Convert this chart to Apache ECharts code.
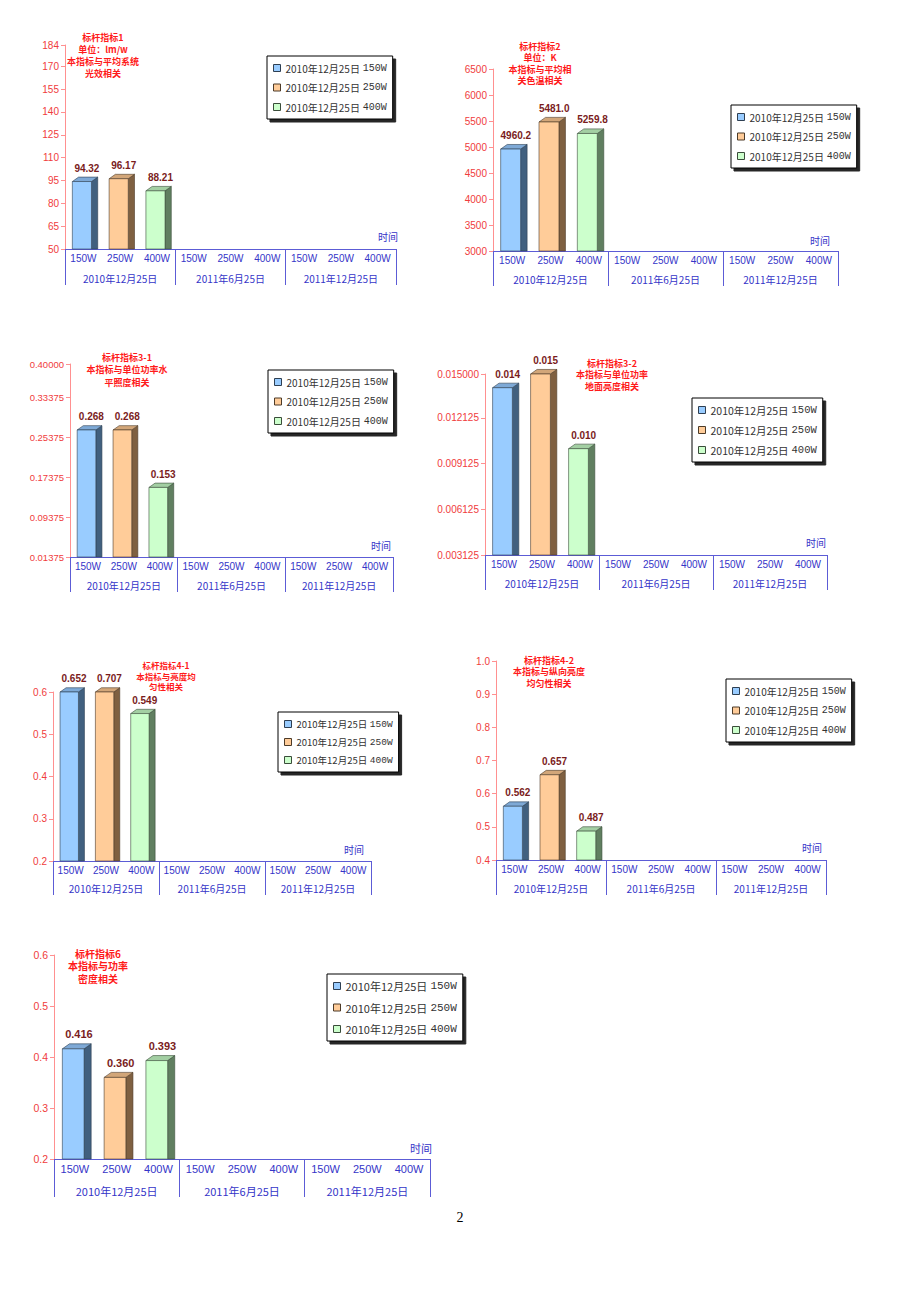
<!DOCTYPE html>
<html><head><meta charset="utf-8">
<script src="https://cdn.jsdelivr.net/npm/echarts@6/dist/echarts.min.js"></script>
<style>html,body{margin:0;padding:0;background:#fff}#c{width:920px;height:1302px}</style>
</head><body><div id="c"></div>
<script>
// ---------- data ----------
const powers = ['150W', '250W', '400W'];
const periods = ['2010年12月25日', '2011年6月25日', '2011年12月25日'];
const categories = ['150W', '250W', '400W', '150W', '250W', '400W', '150W', '250W', '400W'];
const seriesNames = ['2010年12月25日 150W', '2010年12月25日 250W', '2010年12月25日 400W'];

const values1 = [94.32, 96.17, 88.21];
const values2 = [4960.2, 5481.0, 5259.8];
const values31 = [0.268, 0.268, 0.153];
const values32 = [0.0141, 0.0150, 0.0101];
const values41 = [0.652, 0.707, 0.549];
const values42 = [0.562, 0.657, 0.487];
const values6 = [0.416, 0.360, 0.393];

const ticks1 = [50, 65, 80, 95, 110, 125, 140, 155, 170, 184];
const ticks2 = [3000, 3500, 4000, 4500, 5000, 5500, 6000, 6500];
const ticks31 = [0.01375, 0.09375, 0.17375, 0.25375, 0.33375, 0.40000];
const ticks32 = [0.003125, 0.006125, 0.009125, 0.012125, 0.015000];
const ticks41 = [0.2, 0.3, 0.4, 0.5, 0.6];
const ticks42 = [0.4, 0.5, 0.6, 0.7, 0.8, 0.9, 1.0];
const ticks6 = [0.2, 0.3, 0.4, 0.5, 0.6];

const title1 = ['标杆指标1', '单位：lm/w', '本指标与平均系统', '光效相关'];
const title2 = ['标杆指标2', '单位：K', '本指标与平均相', '关色温相关'];
const title31 = ['标杆指标3-1', '本指标与单位功率水', '平照度相关'];
const title32 = ['标杆指标3-2', '本指标与单位功率', '地面亮度相关'];
const title41 = ['标杆指标4-1', '本指标与亮度均', '匀性相关'];
const title42 = ['标杆指标4-2', '本指标与纵向亮度', '均匀性相关'];
const title6 = ['标杆指标6', '本指标与功率', '密度相关'];
const xName = '时间';

// ---------- layout / style ----------
const COLORS = [
  {front: '#99ccff', top: '#7ea9d6', side: '#41607f', edge: '#2e3f52'},
  {front: '#ffcc99', top: '#d2a679', side: '#7f6041', edge: '#4d3b28'},
  {front: '#ccffcc', top: '#a3cfa3', side: '#607f60', edge: '#3a4d3a'}
];
const charts = [
  {vals: values1, ticks: ticks1, title: title1, dec: 2, ydec: 0, gx: 65, gt: 45, gr: 396, gb: 249, sep: 36,
   tx: 103, ty: 37, tlh: 12, tfs: 9, lx: 267, ly: 56, lfs: 10, lgap: 19.5, nx: 388, ny: 236, fs: 10, yfs: 10, dfs: 10},
  {vals: values2, ticks: ticks2, title: title2, dec: 1, ydec: 0, gx: 493, gt: 69, gr: 838, gb: 251, sep: 35,
   tx: 540, ty: 46, tlh: 11.5, tfs: 9, lx: 731, ly: 105, lfs: 10, lgap: 19.5, nx: 820, ny: 240, fs: 10, yfs: 10, dfs: 10},
  {vals: values31, ticks: ticks31, title: title31, dec: 3, ydec: 5, gx: 70, gt: 364, gr: 393, gb: 557, sep: 35,
   tx: 127, ty: 357, tlh: 12.5, tfs: 9, lx: 268, ly: 370, lfs: 10, lgap: 19.5, nx: 381, ny: 545, fs: 10, yfs: 9.5, dfs: 10},
  {vals: values32, ticks: ticks32, title: title32, dec: 3, ydec: 6, gx: 485, gt: 374, gr: 827, gb: 555, sep: 35,
   tx: 612, ty: 363, tlh: 11.5, tfs: 9, lx: 692, ly: 398, lfs: 10.5, lgap: 20, nx: 816, ny: 542, fs: 10, yfs: 10, dfs: 10},
  {vals: values41, ticks: ticks41, title: title41, dec: 3, ydec: 1, gx: 53, gt: 692, gr: 371, gb: 861, sep: 34,
   tx: 166, ty: 665, tlh: 10.5, tfs: 8.5, lx: 278, ly: 712, lfs: 9.5, lgap: 18, nx: 354, ny: 849, fs: 10, yfs: 10, dfs: 10},
  {vals: values42, ticks: ticks42, title: title42, dec: 3, ydec: 1, gx: 496, gt: 661, gr: 826, gb: 860, sep: 35,
   tx: 549, ty: 660, tlh: 11.5, tfs: 9, lx: 726, ly: 679, lfs: 10, lgap: 19.5, nx: 812, ny: 847, fs: 10, yfs: 10, dfs: 10},
  {vals: values6, ticks: ticks6, title: title6, dec: 3, ydec: 1, gx: 54, gt: 955, gr: 430, gb: 1159, sep: 38,
   tx: 98, ty: 953, tlh: 12.5, tfs: 10, lx: 327, ly: 974, lfs: 11, lgap: 21.5, nx: 421, ny: 1148, fs: 11, yfs: 10.5, dfs: 11}
];

const BLUE_TXT = '#3535c8', BLUE_LINE = '#5c5cd6', RED_TXT = '#f03c3c', RED_LINE = '#ff9090';
const CJK = '"Noto Sans CJK SC", "Liberation Sans", sans-serif';

function makeRender(cfg, si) {
  const ymin = cfg.ticks[0], ymax = cfg.ticks[cfg.ticks.length - 1];
  return function (params, api) {
    const x = api.value(0), v = api.value(1);
    const vv = Math.min(v, ymax);
    const p0 = api.coord([x, ymin]);
    const p1 = api.coord([x, vv]);
    const cw = api.size([1, 0])[0];
    const w = cw * 0.52, dx = cw * 0.17, dy = cw * 0.12;
    const xl = p0[0] - w / 2 - cw * 0.04, xr = xl + w;
    const yt = p1[1], yb = p0[1];
    const c = COLORS[si];
    return {
      type: 'group', children: [
        {type: 'polygon', shape: {points: [[xr, yb], [xr + dx, yb], [xr + dx, yt - dy], [xr, yt]]},
         style: {fill: c.side, stroke: c.edge, lineWidth: 0.6}},
        {type: 'polygon', shape: {points: [[xl, yt], [xl + dx, yt - dy], [xr + dx, yt - dy], [xr, yt]]},
         style: {fill: c.top, stroke: c.edge, lineWidth: 0.6}},
        {type: 'rect', shape: {x: xl, y: yt, width: w, height: yb - yt},
         style: {fill: c.front, stroke: c.edge, lineWidth: 0.6}},
        {type: 'text', style: {text: v.toFixed(cfg.dec), x: (xl + xr) / 2 + dx * 0.8, y: yt - dy - 4,
         align: 'center', verticalAlign: 'bottom', fill: '#7a1c1c',
         font: 'bold ' + cfg.dfs + 'px "Liberation Sans", Arial, sans-serif'}}
      ]
    };
  };
}

const option = {
  animation: false,
  backgroundColor: '#fff',
  grid: [], xAxis: [], yAxis: [], series: [], legend: [], graphic: []
};

charts.forEach((cfg, k) => {
  option.grid.push({left: cfg.gx, top: cfg.gt, width: cfg.gr - cfg.gx, height: cfg.gb - cfg.gt, containLabel: false});
  option.xAxis.push({
    type: 'category', gridIndex: k, data: categories, position: 'bottom',
    axisLine: {show: true, lineStyle: {color: BLUE_LINE, width: 1}},
    axisTick: {show: false},
    axisLabel: {interval: 0, color: BLUE_TXT, fontSize: cfg.fs, margin: 4, fontFamily: '"Liberation Sans", Arial, sans-serif'},
    splitLine: {show: false}
  });
  option.xAxis.push({
    type: 'category', gridIndex: k, data: periods, position: 'bottom',
    axisLine: {show: false},
    axisTick: {show: true, length: cfg.sep, lineStyle: {color: BLUE_LINE, width: 1}},
    axisLabel: {interval: 0, color: BLUE_TXT, fontSize: cfg.fs, margin: cfg.sep - 12, fontFamily: CJK},
    splitLine: {show: false}
  });
  const ymin = cfg.ticks[0], ymax = cfg.ticks[cfg.ticks.length - 1];
  option.yAxis.push({
    type: 'value', gridIndex: k, min: ymin, max: ymax,
    axisLine: {show: true, lineStyle: {color: RED_LINE, width: 1}},
    axisTick: {show: true, length: 4, inside: false, lineStyle: {color: RED_LINE}, customValues: cfg.ticks},
    axisLabel: {color: RED_TXT, fontSize: cfg.yfs, margin: 6, customValues: cfg.ticks,
      fontFamily: '"Liberation Sans", Arial, sans-serif',
      formatter: (val) => Number(val).toFixed(cfg.ydec)},
    splitLine: {show: false}
  });
  cfg.vals.forEach((v, i) => {
    option.series.push({
      type: 'custom', name: seriesNames[i], xAxisIndex: 2 * k, yAxisIndex: k,
      clip: false, itemStyle: {color: COLORS[i].front},
      data: [[i, v]], renderItem: makeRender(cfg, i)
    });
  });
  option.legend.push({
    orient: 'vertical', left: cfg.lx, top: cfg.ly, selectedMode: false,
    backgroundColor: '#fff', borderColor: '#000', borderWidth: 1,
    shadowColor: 'rgba(0,0,0,0.85)', shadowBlur: 1, shadowOffsetX: 3, shadowOffsetY: 3,
    padding: [6, 6, 6, 6], itemWidth: 7, itemHeight: 7, itemGap: cfg.lgap - 12,
    data: seriesNames.map((n, i) => ({name: n, icon: 'rect',
      itemStyle: {color: COLORS[i].front, borderColor: COLORS[i].edge, borderWidth: 1}})),
    formatter: (name) => { const p = name.split(' '); return '{a|' + p[0] + '} {b|' + p[1] + '}'; },
    textStyle: {color: '#333', fontSize: cfg.lfs, lineHeight: 12,
      rich: {a: {fontFamily: CJK, fontSize: cfg.lfs, color: '#333', lineHeight: 12},
             b: {fontFamily: '"Liberation Mono", monospace', fontSize: cfg.lfs, color: '#333', lineHeight: 12}}}
  });
  option.graphic.push({
    type: 'text', left: null, x: cfg.tx, y: cfg.ty - cfg.tlh / 2,
    style: {text: cfg.title.join('\n'), align: 'center', verticalAlign: 'top', fill: '#ff1a1a',
      font: 'bold ' + cfg.tfs + 'px ' + CJK, lineHeight: cfg.tlh}
  });
  option.graphic.push({
    type: 'text', x: cfg.nx, y: cfg.ny,
    style: {text: xName, align: 'center', verticalAlign: 'middle', fill: BLUE_TXT,
      font: cfg.fs + 'px ' + CJK}
  });
});
option.graphic.push({
  type: 'text', x: 460, y: 1217,
  style: {text: '2', align: 'center', verticalAlign: 'middle', fill: '#000',
    font: '14px "Liberation Serif", serif'}
});

const chart = echarts.init(document.getElementById('c'), null, {renderer: 'svg', width: 920, height: 1302});
chart.setOption(option);
</script>
</body></html>
